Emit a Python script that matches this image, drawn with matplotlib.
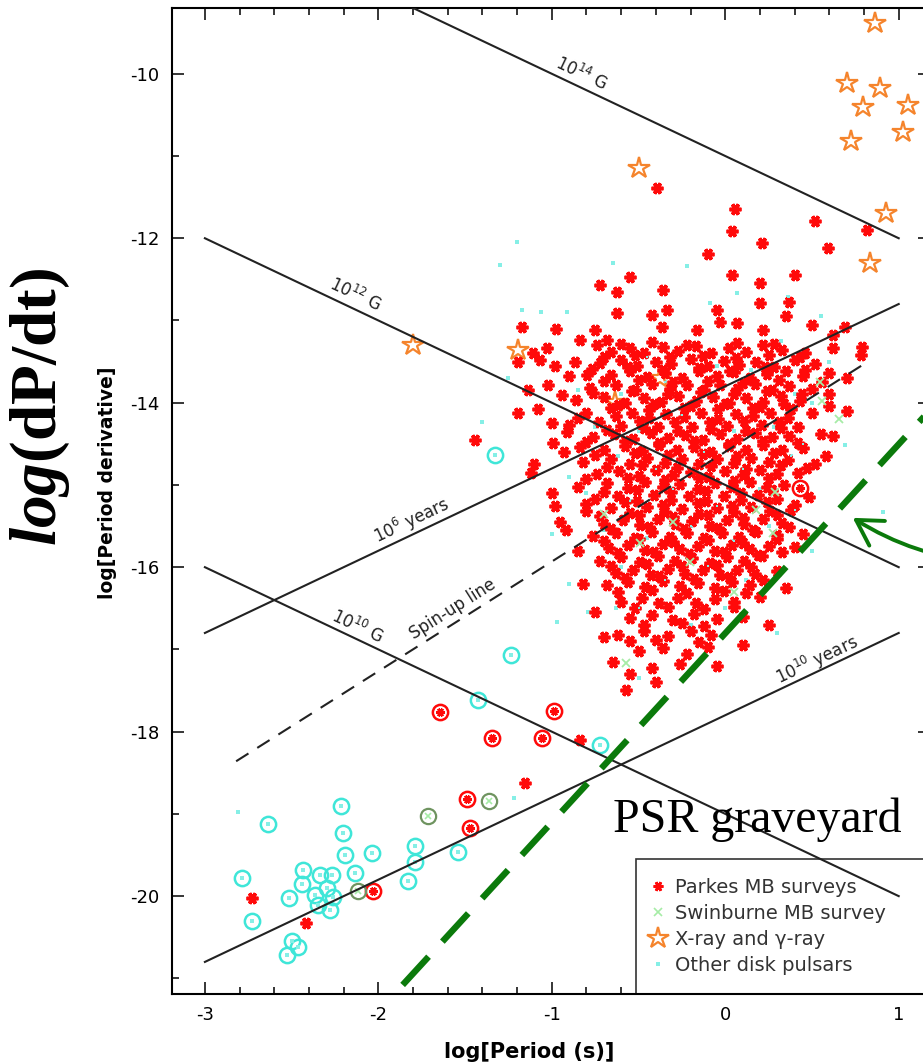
import numpy as np
import matplotlib
matplotlib.use('Agg')
from matplotlib import pyplot as plt
from matplotlib.lines import Line2D
from matplotlib.ticker import MultipleLocator

plt.rcParams['font.family'] = ['DejaVu Sans']
plt.rcParams['axes.unicode_minus'] = False
plt.rcParams['mathtext.fontset'] = 'custom'
plt.rcParams['mathtext.rm'] = 'DejaVu Sans'
plt.rcParams['mathtext.it'] = 'DejaVu Sans:italic'
plt.rcParams['mathtext.bf'] = 'Liberation Serif:bold'
plt.rcParams['mathtext.bfit'] = 'Liberation Serif:italic:bold'

# (log P, log Pdot) pairs

# Parkes MB surveys (red asterisks)
parkes = [
    (-0.395, -11.39), (0.055, -11.64), (0.037, -11.91), (0.21, -12.06), (0.52, -11.79),
    (0.59, -12.12), (0.815, -11.90), (-0.10, -12.19), (0.037, -12.45), (0.199, -12.54),
    (-0.55, -12.47), (-0.625, -12.65), (-0.36, -12.63), (-0.72, -12.57), (0.40, -12.45),
    (0.37, -12.77), (0.69, -13.08), (0.79, -13.32), (-0.049, -12.87), (-0.032, -13.02),
    (-0.164, -13.11), (0.066, -13.03), (0.216, -13.11), (0.199, -12.79), (-0.424, -12.93),
    (-0.366, -13.08), (-0.337, -12.87), (-0.625, -12.91), (-0.683, -13.24), (-0.839, -13.24),
    (-0.741, -13.30), (-0.752, -13.11), (-1.173, -13.08), (-0.977, -13.10), (-1.196, -13.50),
    (-1.029, -13.33), (-1.110, -13.39), (-1.069, -13.48), (-1.138, -13.84), (-0.942, -13.91),
    (-1.196, -14.12), (-1.000, -14.25), (-0.994, -14.49), (-0.914, -14.36), (-0.839, -14.54),
    (-0.867, -13.50), (-0.798, -13.66), (-1.44, -14.45), (-1.12, -14.85), (-1.0, -15.1),
    (-0.95, -15.45), (0.5, -13.05), (0.62, -13.18), (0.35, -12.95),
    # dense core
    (-0.66, -13.38), (-0.55, -13.33), (-0.47, -13.40), (-0.36, -13.32), (-0.27, -13.37),
    (-0.17, -13.31), (-0.08, -13.40), (0.02, -13.34), (0.12, -13.38), (0.22, -13.30),
    (0.33, -13.36), (0.46, -13.40), (0.62, -13.33), (0.78, -13.42),
    (-0.98, -13.55), (-0.72, -13.52), (-0.60, -13.48), (-0.51, -13.55), (-0.40, -13.50),
    (-0.31, -13.53), (-0.20, -13.47), (-0.10, -13.55), (-0.01, -13.49), (0.08, -13.54),
    (0.18, -13.50), (0.28, -13.56), (0.40, -13.48), (0.52, -13.53),
    (-0.90, -13.68), (-0.66, -13.66), (-0.55, -13.62), (-0.45, -13.69), (-0.35, -13.64),
    (-0.25, -13.70), (-0.15, -13.62), (-0.05, -13.67), (0.05, -13.63), (0.14, -13.70),
    (0.24, -13.65), (0.35, -13.61), (0.45, -13.68), (0.60, -13.64), (0.70, -13.70),
    (-1.02, -13.78), (-0.78, -13.82), (-0.63, -13.79), (-0.52, -13.84), (-0.42, -13.77),
    (-0.32, -13.83), (-0.22, -13.78), (-0.12, -13.85), (-0.03, -13.79), (0.07, -13.83),
    (0.17, -13.77), (0.27, -13.84), (0.37, -13.80), (0.50, -13.83),
    (-0.86, -13.97), (-0.70, -13.93), (-0.58, -14.00), (-0.47, -13.94), (-0.37, -13.99),
    (-0.27, -13.92), (-0.17, -13.98), (-0.07, -13.93), (0.02, -14.00), (0.12, -13.94),
    (0.22, -13.99), (0.32, -13.92), (0.43, -13.98),
    (-1.08, -14.08), (-0.80, -14.12), (-0.66, -14.07), (-0.54, -14.13), (-0.44, -14.09),
    (-0.34, -14.14), (-0.24, -14.06), (-0.14, -14.12), (-0.04, -14.08), (0.06, -14.14),
    (0.16, -14.07), (0.26, -14.12), (0.38, -14.08), (0.50, -14.13), (0.70, -14.10),
    (-0.90, -14.27), (-0.73, -14.23), (-0.60, -14.28), (-0.49, -14.22), (-0.39, -14.29),
    (-0.29, -14.24), (-0.19, -14.30), (-0.09, -14.23), (0.01, -14.28), (0.11, -14.22),
    (0.21, -14.27), (0.31, -14.23), (0.42, -14.29),
    (-0.76, -14.42), (-0.64, -14.38), (-0.53, -14.44), (-0.43, -14.37), (-0.33, -14.43),
    (-0.23, -14.39), (-0.13, -14.45), (-0.03, -14.38), (0.07, -14.44), (0.17, -14.37),
    (0.27, -14.42), (0.37, -14.40), (0.55, -14.38),
    (-0.93, -14.60), (-0.70, -14.57), (-0.58, -14.53), (-0.48, -14.59), (-0.38, -14.52),
    (-0.28, -14.58), (-0.18, -14.54), (-0.08, -14.60), (0.02, -14.53), (0.12, -14.58),
    (0.22, -14.52), (0.33, -14.57), (0.45, -14.55),
    (-0.82, -14.72), (-0.66, -14.68), (-0.55, -14.74), (-0.45, -14.67), (-0.35, -14.73),
    (-0.25, -14.69), (-0.15, -14.75), (-0.05, -14.68), (0.05, -14.73), (0.15, -14.67),
    (0.25, -14.72), (0.36, -14.70), (0.52, -14.74),
    (-0.74, -14.87), (-0.61, -14.83), (-0.50, -14.89), (-0.40, -14.82), (-0.30, -14.88),
    (-0.20, -14.84), (-0.10, -14.90), (0.00, -14.83), (0.10, -14.88), (0.20, -14.82),
    (0.30, -14.87), (0.42, -14.85),
    (-0.85, -15.02), (-0.68, -14.98), (-0.56, -15.04), (-0.46, -14.97), (-0.36, -15.03),
    (-0.26, -14.99), (-0.16, -15.05), (-0.06, -14.98), (0.04, -15.03), (0.14, -14.97),
    (0.24, -15.02), (0.34, -15.00),
    (-0.75, -15.17), (-0.62, -15.13), (-0.51, -15.19), (-0.41, -15.12), (-0.31, -15.18),
    (-0.21, -15.14), (-0.11, -15.20), (-0.01, -15.13), (0.09, -15.18), (0.19, -15.12),
    (0.30, -15.17),
    (-0.80, -15.32), (-0.66, -15.28), (-0.55, -15.34), (-0.45, -15.27), (-0.35, -15.33),
    (-0.25, -15.29), (-0.15, -15.35), (-0.05, -15.28), (0.05, -15.33), (0.15, -15.27),
    (0.26, -15.32), (0.38, -15.30),
    (-0.70, -15.47), (-0.59, -15.43), (-0.49, -15.49), (-0.39, -15.42), (-0.29, -15.48),
    (-0.19, -15.44), (-0.09, -15.50), (0.01, -15.43), (0.11, -15.48), (0.22, -15.42),
    (0.33, -15.46),
    (-0.76, -15.62), (-0.63, -15.58), (-0.52, -15.64), (-0.42, -15.57), (-0.32, -15.63),
    (-0.22, -15.59), (-0.12, -15.65), (-0.02, -15.58), (0.08, -15.63), (0.18, -15.57),
    (0.30, -15.61),
    (-0.67, -15.77), (-0.56, -15.73), (-0.46, -15.79), (-0.36, -15.72), (-0.26, -15.78),
    (-0.16, -15.74), (-0.06, -15.80), (0.04, -15.73), (0.14, -15.78), (0.25, -15.74),
    (0.40, -15.76),
    (-0.72, -15.92), (-0.60, -15.88), (-0.49, -15.94), (-0.39, -15.87), (-0.29, -15.93),
    (-0.19, -15.89), (-0.09, -15.95), (0.01, -15.88), (0.11, -15.93), (0.21, -15.87),
    (-0.63, -16.07), (-0.53, -16.03), (-0.43, -16.09), (-0.33, -16.02), (-0.23, -16.08),
    (-0.13, -16.04), (-0.03, -16.10), (0.07, -16.03), (0.17, -16.08), (0.30, -16.05),
    (-0.68, -16.22), (-0.56, -16.18), (-0.46, -16.24), (-0.36, -16.17), (-0.26, -16.23),
    (-0.16, -16.19), (-0.06, -16.25), (0.04, -16.18), (0.14, -16.22),
    (-0.60, -16.42), (-0.48, -16.38), (-0.38, -16.44), (-0.27, -16.37), (-0.17, -16.43),
    (-0.06, -16.39), (0.05, -16.42), (0.20, -16.36),
    (-0.55, -16.62), (-0.42, -16.58), (-0.30, -16.64), (-0.18, -16.57), (-0.05, -16.63),
    (0.10, -16.60), (-0.62, -16.82), (-0.47, -16.78), (-0.33, -16.84), (-0.20, -16.77),
    (-0.08, -16.83), (-0.50, -17.02), (-0.36, -16.98), (-0.22, -17.05), (-0.10, -16.97),
    (-0.42, -17.22), (-0.26, -17.18), (-0.55, -17.30), (-0.57, -17.49), (-0.40, -17.40),
    # filling between the core rows
    (-0.60, -13.29), (-0.42, -13.26), (-0.22, -13.30), (0.07, -13.27), (0.28, -13.29),
    (-0.70, -13.44), (-0.52, -13.42), (-0.32, -13.45), (-0.13, -13.43), (0.06, -13.46),
    (0.25, -13.42), (0.43, -13.45),
    (-0.77, -13.59), (-0.56, -13.57), (-0.36, -13.60), (-0.15, -13.58), (0.03, -13.61),
    (0.23, -13.57), (0.46, -13.60),
    (-0.70, -13.74), (-0.50, -13.72), (-0.30, -13.75), (-0.10, -13.73), (0.10, -13.76),
    (0.31, -13.72), (0.56, -13.75),
    (-0.76, -13.88), (-0.54, -13.86), (-0.33, -13.89), (-0.14, -13.87), (0.05, -13.90),
    (0.24, -13.86), (0.44, -13.89),
    (-0.62, -14.03), (-0.41, -14.01), (-0.20, -14.04), (0.00, -14.02), (0.20, -14.05),
    (0.34, -14.01), (0.60, -14.04),
    (-0.85, -14.18), (-0.63, -14.16), (-0.44, -14.19), (-0.24, -14.17), (-0.04, -14.20),
    (0.16, -14.16), (0.36, -14.19),
    (-0.68, -14.33), (-0.47, -14.31), (-0.27, -14.34), (-0.08, -14.32), (0.12, -14.35),
    (0.32, -14.31),
    (-0.80, -14.48), (-0.58, -14.46), (-0.38, -14.49), (-0.18, -14.47), (0.02, -14.50),
    (0.22, -14.46), (0.42, -14.49),
    (-0.75, -14.63), (-0.52, -14.61), (-0.33, -14.64), (-0.13, -14.62), (0.07, -14.65),
    (0.28, -14.61),
    (-0.68, -14.78), (-0.48, -14.76), (-0.28, -14.79), (-0.08, -14.77), (0.12, -14.80),
    (0.32, -14.76), (0.47, -14.79),
    (-0.80, -14.93), (-0.56, -14.91), (-0.35, -14.94), (-0.15, -14.92), (0.05, -14.95),
    (0.25, -14.91),
    (-0.70, -15.08), (-0.51, -15.06), (-0.31, -15.09), (-0.11, -15.07), (0.09, -15.10),
    (0.27, -15.06),
    (-0.80, -15.23), (-0.58, -15.21), (-0.36, -15.24), (-0.16, -15.22), (0.04, -15.25),
    (0.24, -15.21), (0.40, -15.24),
    (-0.72, -15.38), (-0.50, -15.36), (-0.30, -15.39), (-0.10, -15.37), (0.10, -15.40),
    (0.30, -15.36),
    (-0.66, -15.53), (-0.44, -15.51), (-0.24, -15.54), (-0.04, -15.52), (0.16, -15.55),
    (0.37, -15.51),
    (-0.70, -15.68), (-0.50, -15.66), (-0.30, -15.69), (-0.10, -15.67), (0.10, -15.70),
    (0.30, -15.66),
    (-0.62, -15.83), (-0.41, -15.81), (-0.21, -15.84), (-0.01, -15.82), (0.19, -15.85),
    (0.33, -15.81),
    (-0.66, -15.98), (-0.45, -15.96), (-0.25, -15.99), (-0.05, -15.97), (0.15, -16.00),
    (-0.58, -16.13), (-0.38, -16.11), (-0.18, -16.14), (0.02, -16.12), (0.22, -16.15),
    (-0.62, -16.30), (-0.42, -16.28), (-0.22, -16.31), (-0.01, -16.29), (0.12, -16.32),
    (-0.52, -16.50), (-0.33, -16.48), (-0.12, -16.51), (0.05, -16.49),
    (-0.47, -16.70), (-0.25, -16.68), (-0.12, -16.72),
    (-0.55, -16.90), (-0.40, -16.88), (-0.15, -16.91),
    # edges of the cloud
    (-1.10, -14.75), (-0.98, -15.25), (-0.92, -15.55), (-0.85, -15.80), (-0.82, -16.20),
    (-0.75, -16.55), (-0.70, -16.85), (-0.65, -17.15), (0.60, -13.90), (0.62, -14.40),
    (0.58, -14.65), (0.48, -15.15), (0.45, -15.60), (0.35, -16.25), (0.25, -16.70),
    (0.10, -16.95), (-0.05, -17.20),
    # isolated ones
    (-0.84, -18.10), (-1.156, -18.63), (-2.73, -20.02), (-2.42, -20.33),
]

# Parkes binaries (red asterisk inside a red circle)
parkes_binary = [
    (-1.646, -17.76), (-1.346, -18.08), (-0.988, -17.75), (-1.058, -18.08),
    (-1.49, -18.82), (-1.473, -19.17), (-2.03, -19.94), (0.43, -15.04),
]

# Swinburne MB survey (light green crosses)
swinburne = [
    (0.556, -13.98), (0.654, -14.20), (0.545, -13.75), (0.285, -15.09), (0.274, -15.58),
    (-0.205, -15.94), (-0.49, -15.71), (0.18, -15.30), (-0.57, -17.17), (-0.30, -15.45),
    (0.05, -16.30), (-0.70, -15.35),
]

# Swinburne binaries (dark green circles)
swinburne_binary = [(-1.715, -19.03), (-1.363, -18.84), (-2.118, -19.94)]

# X-ray and gamma-ray pulsars (open orange stars)
xray = [
    (0.862, -9.38), (0.700, -10.11), (0.890, -10.17), (0.793, -10.40), (1.052, -10.38),
    (1.023, -10.71), (0.723, -10.82), (-0.499, -11.14), (0.925, -11.69), (0.833, -12.30),
    (-1.801, -13.30), (-1.196, -13.36), (-0.378, -13.70), (-0.637, -13.99),
]

# Other disk pulsars (small cyan dots)
other = [
    (-2.81, -18.98), (-1.30, -12.32), (-0.65, -12.30), (-1.17, -12.87), (-1.06, -12.90),
    (-0.91, -12.90), (-1.40, -14.23), (-0.09, -12.79), (-0.22, -12.34), (0.066, -12.66),
    (0.36, -12.71), (-0.97, -16.67), (-0.79, -16.54), (-0.63, -16.50), (-1.22, -18.81),
    (0.69, -14.51), (0.91, -15.33), (-1.20, -12.05), (0.55, -12.95), (-1.25, -13.70),
    (-1.00, -15.60), (-0.90, -16.20), (0.50, -15.80), (0.60, -13.50), (-0.50, -17.35),
    (0.30, -16.80), (-0.60, -13.90), (-0.35, -13.75), (-0.10, -13.90), (0.15, -13.60),
    (0.40, -13.90), (-0.75, -14.30), (-0.50, -14.35), (-0.25, -14.15), (0.05, -14.35),
    (0.28, -14.30), (-0.62, -14.65), (-0.40, -14.80), (-0.12, -14.60), (0.10, -14.80),
    (0.38, -14.65), (-0.80, -15.10), (-0.55, -15.20), (-0.30, -15.05), (-0.05, -15.25),
    (0.20, -15.05), (-0.70, -15.55), (-0.45, -15.65), (-0.20, -15.50), (0.05, -15.68),
    (0.25, -15.50), (-0.60, -16.00), (-0.35, -16.15), (-0.10, -15.98), (0.12, -16.15),
    (-0.50, -16.50), (-0.20, -16.70), (0.00, -16.50), (-0.45, -13.45), (-0.05, -13.55),
    (0.32, -13.25), (-0.85, -13.85), (0.50, -14.00), (0.45, -14.50), (-0.90, -14.90),
    (0.40, -15.30),
]

# other disk binaries (open cyan circles)
other_binary = [
    (-1.328, -14.63), (-1.236, -17.07), (-1.427, -17.62), (-0.723, -18.16),
    (-2.637, -19.12), (-2.787, -19.78), (-2.729, -20.30), (-2.516, -20.02),
    (-2.435, -19.68), (-2.441, -19.85), (-2.499, -20.54), (-2.464, -20.62),
    (-2.527, -20.72), (-2.366, -19.99), (-2.337, -19.74), (-2.349, -20.11),
    (-2.297, -19.90), (-2.268, -19.74), (-2.262, -20.01), (-2.216, -18.91),
    (-2.205, -19.23), (-2.193, -19.50), (-2.135, -19.72), (-2.037, -19.48),
    (-1.830, -19.81), (-1.790, -19.59), (-1.790, -19.39), (-1.542, -19.46),
    (-2.280, -20.17),
]

# reference lines: end points (log P, log Pdot)
line_p = [-3, 1]
bfield_pdot = {'14': [-8, -12], '12': [-12, -16], '10': [-16, -20]}
age_pdot = {'6': [-16.8, -12.8], '10': [-20.8, -16.8]}
spinup_p = [-2.82, 0.83]
spinup_pdot = [-18.36, -13.49]

# labels: text, log P, log Pdot, angle in data space
line_labels = [
    ('$10^{14}$ G', -0.83, -10.0, -45),
    ('$10^{12}$ G', -2.13, -12.68, -45),
    ('$10^{10}$ G', -2.12, -16.72, -45),
    ('$10^{6}$ years', -1.81, -15.44, 45),
    ('Spin-up line', -1.57, -16.51, 53.13),
    ('$10^{10}$ years', 0.53, -17.13, 45),
]

# overlay: death-line sketch and arrow
grave_p = [-1.86, 1.25]
grave_pdot = [-21.08, -13.93]
arrow_tip = (0.735, -15.40)
arrow_tail = (1.50, -15.95)

red = '#ff0a0a'
cyan_dot = '#86efe6'
cyan_ring = '#3fe6d8'
orange = '#f5842c'
light_green = '#a6eca6'


def xy(points):
    a = np.array(points)
    return a[:, 0], a[:, 1]


def main():
    fig = plt.figure(figsize=(9.23, 10.64), dpi=100)
    ax = fig.add_axes([0.1863, 0.0658, 0.8212, 0.9267])

    x, y = xy(other)
    ax.plot(x, y, ls='none', marker='s', ms=2.2, color=cyan_dot, mew=0, zorder=2)

    x, y = xy(xray)
    ax.plot(x, y, ls='none', marker='*', ms=16, mfc='white', mec=orange, mew=1.6, zorder=2.5)

    x, y = xy(parkes)
    ax.plot(x, y, ls='none', marker=(6, 2, 90), ms=8.5, mec=red, mew=2.6, zorder=3)

    x, y = xy(other)
    ax.plot(x, y, ls='none', marker='s', ms=1.6, color=cyan_dot, mew=0, zorder=3.1)

    x, y = xy(swinburne)
    ax.plot(x, y, ls='none', marker='x', ms=6, mec=light_green, mew=1.3, zorder=3.2)

    x, y = xy(other_binary)
    ax.plot(x, y, ls='none', marker='o', ms=11, mfc='none', mec=cyan_ring, mew=1.8, zorder=3.4)
    ax.plot(x, y, ls='none', marker='s', ms=2.2, color=cyan_dot, mew=0, zorder=3.4)

    x, y = xy(parkes_binary)
    ax.plot(x, y, ls='none', marker='o', ms=11, mfc='none', mec=red, mew=1.8, zorder=3.5)
    ax.plot(x, y, ls='none', marker=(6, 2, 90), ms=6, mec=red, mew=2, zorder=3.5)

    x, y = xy(swinburne_binary)
    ax.plot(x, y, ls='none', marker='o', ms=11, mfc='none', mec='#6f9460', mew=1.6, zorder=3.5)
    ax.plot(x, y, ls='none', marker='x', ms=5, mec=light_green, mew=1.2, zorder=3.5)

    for key in bfield_pdot:
        ax.plot(line_p, bfield_pdot[key], color='#222222', lw=1.5, zorder=4)
    for key in age_pdot:
        ax.plot(line_p, age_pdot[key], color='#222222', lw=1.5, zorder=4)
    ax.plot(spinup_p, spinup_pdot, color='#222222', lw=1.5, dashes=(7, 5), zorder=4)

    for text, px, py, ang in line_labels:
        ax.text(px, py, text, fontsize=12, color='#222222', rotation=ang,
                transform_rotates_text=True, rotation_mode='anchor',
                ha='center', va='center', zorder=5)

    ax.plot(grave_p, grave_pdot, color='#0b7a0b', lw=4.6, dashes=(6, 3.2),
            dash_capstyle='butt', zorder=6)
    ax.annotate('', xy=arrow_tip, xytext=arrow_tail, annotation_clip=False,
                arrowprops=dict(arrowstyle='->,head_length=0.6,head_width=0.35',
                                color='#0b7a0b', lw=2.8, mutation_scale=30,
                                connectionstyle='arc3,rad=-0.12', shrinkA=0, shrinkB=0),
                zorder=6)
    ax.text(-0.645, -19.22, 'PSR graveyard', family='Liberation Serif', fontsize=34.5,
            ha='left', va='baseline', zorder=6)

    ax.set_xlim(-3.19, 1.18)
    ax.set_ylim(-21.19, -9.2)
    ax.set_xticks([-3, -2, -1, 0, 1])
    ax.set_yticks([-20, -18, -16, -14, -12, -10])
    ax.xaxis.set_minor_locator(MultipleLocator(0.2))
    ax.yaxis.set_minor_locator(MultipleLocator(1))
    ax.tick_params(which='both', direction='in', top=True, right=True, width=1.1)
    ax.tick_params(which='major', length=8.6, labelsize=13, pad=9)
    ax.tick_params(which='minor', length=5)
    for s in ax.spines.values():
        s.set_linewidth(1.5)

    ax.set_xlabel('log[Period (s)]', fontsize=15, fontweight='bold')
    ax.xaxis.set_label_coords(0.471, -0.0487)
    ax.set_ylabel('log[Period derivative]', fontsize=13.5, fontweight='bold')
    ax.yaxis.set_label_coords(-0.0726, 0.518)

    handles = [
        Line2D([], [], ls='none', marker=(6, 2, 90), ms=7, mec=red, mew=2, label='Parkes MB surveys'),
        Line2D([], [], ls='none', marker='x', ms=6, mec=light_green, mew=1.2, label='Swinburne MB survey'),
        Line2D([], [], ls='none', marker='*', ms=16, mfc='white', mec=orange, mew=1.6,
               label='X-ray and γ-ray'),
        Line2D([], [], ls='none', marker='s', ms=2.2, color=cyan_dot, mew=0, label='Other disk pulsars'),
    ]
    leg = ax.legend(handles=handles, loc='lower left', bbox_to_anchor=(0.612, 0.0, 0.388, 0.137),
                    mode='expand', borderaxespad=0, fontsize=14, fancybox=False,
                    edgecolor='#333333', framealpha=1, borderpad=1.0, labelspacing=0.35,
                    handlelength=0.25, handletextpad=0.75)
    leg.get_frame().set_linewidth(1.2)
    leg.set_zorder(1.5)
    for t in leg.get_texts():
        t.set_color('#333333')

    fig.text(40 / 923, 1 - 407 / 1064, r'$\mathbfit{log}\mathbf{(dP/dt)}$', fontsize=47,
             rotation=90, ha='center', va='center')

    fig.savefig('out.png', dpi=100)


if __name__ == '__main__':
    main()
